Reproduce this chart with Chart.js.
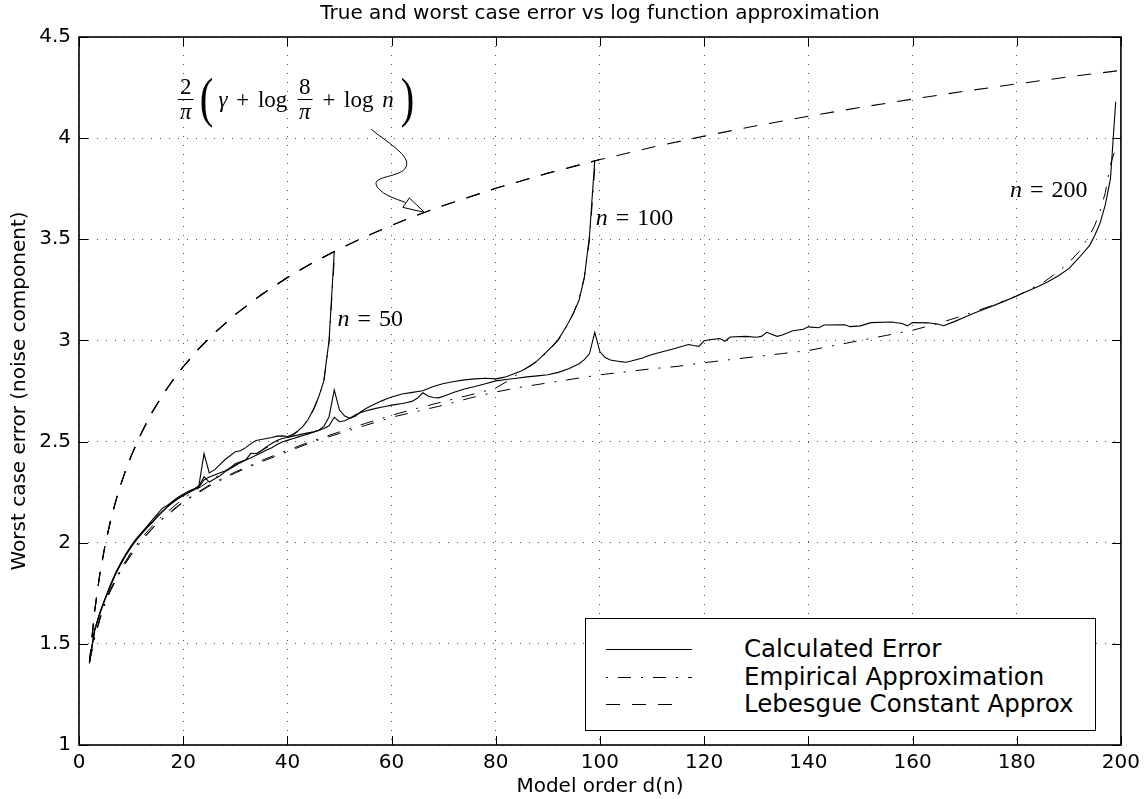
<!DOCTYPE html>
<html>
<head>
<meta charset="utf-8">
<title>True and worst case error vs log function approximation</title>
<script src="https://cdn.jsdelivr.net/npm/chart.js@4.4.1/dist/chart.umd.min.js"></script>
<style>
    html, body { margin: 0; padding: 0; background: #fff; }
    #wrap { position: relative; width: 1146px; height: 799px; font-family: "DejaVu Sans", sans-serif; color: #000; }
    #plotTitle { position: absolute; top: 0; font-size: 20px; line-height: 24px; white-space: nowrap; transform: translateX(-50%); }
    .note { position: absolute; font-family: "Liberation Serif", serif; font-size: 24px; line-height: 26px; word-spacing: 2px; white-space: nowrap; transform: translateY(-50%); }
    .note i, #formula i { font-style: italic; }
    #formula { position: absolute; display: flex; align-items: center; font-family: "Liberation Serif", serif; font-size: 23px; white-space: nowrap; transform: translate(-50%, -50%); }
    .frac { display: inline-flex; flex-direction: column; align-items: center; }
    .frac span { line-height: 24px; padding: 0 2px; }
    .frac span:first-child { border-bottom: 1.3px solid #000; }
    .paren { font-size: 54px; line-height: 54px; transform: scaleX(0.75); margin: 0 2px 4px 4px; font-weight: 300; }
    .t { padding: 0 1px; word-spacing: 3px; }
    #legend { position: absolute; width: 511px; height: 113px; box-sizing: border-box; border: 1.3px solid #000; background: #fff; }
    .row { position: absolute; left: 0; width: 100%; height: 28px; }
    .row svg { position: absolute; left: 20px; top: 0; }
    .row span { position: absolute; left: 158px; top: 0; font-size: 24.5px; line-height: 28px; white-space: nowrap; }
</style>
</head>
<body>
<div id="wrap">
    <canvas id="errChart"></canvas>
    <div id="plotTitle">True and worst case error vs log function approximation</div>
    <div id="formula">
        <span class="frac"><span>2</span><span><i>π</i></span></span>
        <span class="paren">(</span>
        <span class="t"><i>γ</i> + log&nbsp;</span>
        <span class="frac"><span>8</span><span><i>π</i></span></span>
        <span class="t">&nbsp;+ log&nbsp;<i>n</i></span>
        <span class="paren">)</span>
    </div>
    <div class="note" id="n50"><i>n</i> = 50</div>
    <div class="note" id="n100"><i>n</i> = 100</div>
    <div class="note" id="n200"><i>n</i> = 200</div>
    <div id="legend">
        <div class="row" style="top:16px"><svg width="90" height="28"><line x1="0" y1="14.5" x2="86" y2="14.5" stroke="#000" stroke-width="1"/></svg><span>Calculated Error</span></div>
        <div class="row" style="top:43.5px"><svg width="90" height="28"><line x1="0" y1="14.5" x2="86" y2="14.5" stroke="#000" stroke-width="1" stroke-dasharray="2 10 13 10"/></svg><span>Empirical Approximation</span></div>
        <div class="row" style="top:71px"><svg width="90" height="28"><line x1="0" y1="14.5" x2="72" y2="14.5" stroke="#000" stroke-width="1" stroke-dasharray="14 12"/></svg><span>Lebesgue Constant Approx</span></div>
    </div>
</div>
<script>
// Calculated error, n = 50
const calc50D = [2, 3, 4, 5, 6, 7, 8, 9, 10, 11, 12, 13, 14, 15, 16, 17, 18, 19, 20, 21, 22,
    23, 24, 25, 26, 27, 28, 29, 30, 31, 32, 33, 34, 35, 36, 37, 38, 39, 40, 41, 42, 43, 44, 45, 46, 47, 48, 49];
const calc50 = [1.41, 1.57, 1.655, 1.725, 1.79, 1.85, 1.90, 1.945, 1.985, 2.02, 2.05, 2.08, 2.11, 2.14, 2.17, 2.185, 2.205, 2.225, 2.24, 2.255, 2.265,
    2.28, 2.44, 2.345, 2.36, 2.385, 2.41, 2.43, 2.45, 2.455, 2.47, 2.49, 2.505, 2.51, 2.515, 2.52, 2.527, 2.528, 2.525, 2.535, 2.553, 2.575, 2.61, 2.66, 2.72, 2.80, 3.00, 3.44];

// Calculated error, n = 100
const calc100D = [2, 3, 4, 5, 6, 7, 8, 9, 10, 11, 12, 13, 14, 15, 16, 17, 18, 19, 20, 21, 22,
    23, 24, 25, 26, 27, 28, 29, 30, 31, 32, 33, 34, 35, 36, 37, 38, 39, 40, 41, 42,
    43, 44, 45, 46, 47, 48, 49, 50, 51, 52, 53, 54, 55, 56, 57, 58, 59, 60,
    62, 64, 66, 68, 70, 72, 74, 76, 78, 80,
    81, 82, 83, 84, 85, 86, 87, 88, 89, 90, 91, 92, 93, 94, 95, 96, 97, 98, 99];
const calc100 = [1.41, 1.565, 1.65, 1.72, 1.785, 1.845, 1.895, 1.94, 1.98, 2.015, 2.045, 2.075, 2.10, 2.13, 2.155, 2.18, 2.20, 2.22, 2.235, 2.25, 2.262,
    2.278, 2.326, 2.30, 2.315, 2.33, 2.35, 2.37, 2.39, 2.40, 2.41, 2.442, 2.44, 2.455, 2.475, 2.49, 2.505, 2.515, 2.52, 2.527, 2.532,
    2.538, 2.543, 2.548, 2.556, 2.575, 2.623, 2.755, 2.656, 2.626, 2.615, 2.625, 2.645, 2.662, 2.676, 2.688, 2.70, 2.71, 2.72,
    2.735, 2.743, 2.751, 2.772, 2.787, 2.797, 2.805, 2.81, 2.813, 2.81,
    2.815, 2.82, 2.83, 2.84, 2.85, 2.865, 2.88, 2.90, 2.925, 2.95, 2.975, 3.005, 3.045, 3.09, 3.14, 3.20, 3.31, 3.52, 3.89];

// Calculated error, n = 200
const calc200D = [2, 3, 4, 5, 6, 7, 8, 9, 10, 11, 12, 13, 14, 15, 16, 17, 18, 19, 20, 21, 22,
    23, 24, 25, 26, 27, 28, 29, 30, 31, 32, 33, 34, 35, 36, 37, 38, 39, 40, 41, 42, 43, 44, 45, 46,
    47, 48, 49, 50, 51, 52, 53, 54, 55, 56, 57, 58, 59, 60, 61, 62, 63, 64, 65, 66, 67, 68, 69, 70,
    72, 74, 76, 78, 80, 82, 84, 86, 88, 90, 92, 94, 96, 97, 98, 99, 100, 101, 102, 104, 105, 106,
    108, 110, 112, 114, 116, 117, 118, 119, 120, 121, 123, 124, 125, 128, 130, 131, 132, 134, 135,
    137, 139, 140, 142, 143, 147, 148, 150, 152, 156, 158, 159, 160, 163, 165, 166, 168, 170,
    172, 174, 176, 178, 180, 182, 184, 186, 188, 190, 192, 194, 195, 196, 197, 198, 199];
const calc200 = [1.41, 1.565, 1.65, 1.72, 1.785, 1.843, 1.893, 1.938, 1.978, 2.013, 2.043, 2.072, 2.098, 2.127, 2.152, 2.177, 2.198, 2.217, 2.232, 2.247, 2.26,
    2.275, 2.31, 2.325, 2.335, 2.345, 2.355, 2.37, 2.384, 2.395, 2.408, 2.42, 2.432, 2.445, 2.458, 2.47, 2.485, 2.498, 2.506, 2.514, 2.522, 2.53, 2.538, 2.546, 2.555,
    2.565, 2.578, 2.62, 2.598, 2.603, 2.615, 2.632, 2.643, 2.651, 2.658, 2.664, 2.67, 2.675, 2.68, 2.684, 2.688, 2.693, 2.70, 2.715, 2.741, 2.725, 2.718, 2.716, 2.724,
    2.744, 2.76, 2.772, 2.786, 2.80, 2.807, 2.813, 2.82, 2.825, 2.83, 2.842, 2.86, 2.885, 2.905, 2.935, 3.04, 2.944, 2.915, 2.903, 2.895, 2.892, 2.898,
    2.912, 2.93, 2.944, 2.958, 2.972, 2.98, 2.975, 2.971, 2.998, 3.003, 3.009, 2.996, 3.017, 3.02, 3.016, 3.02, 3.04, 3.02, 3.027,
    3.048, 3.055, 3.067, 3.063, 3.076, 3.077, 3.068, 3.072, 3.088, 3.091, 3.084, 3.072, 3.088, 3.087, 3.08, 3.073, 3.093, 3.115,
    3.137, 3.157, 3.177, 3.198, 3.22, 3.243, 3.265, 3.29, 3.32, 3.355, 3.41, 3.47, 3.52, 3.58, 3.67, 3.80, 4.18];

// Empirical approximation, one curve per n
const emp50D = [2, 3, 4, 5, 6, 8, 10, 12, 15, 20, 25, 30, 33, 35, 37, 38, 40, 41, 42, 43, 44, 45, 46, 47, 48, 49];
const emp50 = [1.41, 1.535, 1.626, 1.706, 1.768, 1.87, 1.952, 2.023, 2.11, 2.218, 2.305, 2.38, 2.425, 2.455, 2.485, 2.50, 2.518, 2.53, 2.55, 2.575, 2.61, 2.655, 2.715, 2.80, 2.99, 3.40];

const emp100D = [2, 3, 4, 5, 6, 8, 10, 12, 15, 20, 25, 30, 35, 40, 45, 50, 55, 60, 65, 70, 75, 78, 80, 82, 84, 86, 88, 90, 92, 94, 95, 96, 97, 98, 99];
const emp100 = [1.41, 1.532, 1.622, 1.702, 1.763, 1.863, 1.943, 2.013, 2.098, 2.204, 2.285, 2.35, 2.406, 2.457, 2.505, 2.548, 2.59, 2.63, 2.665, 2.698, 2.73, 2.75, 2.765, 2.795, 2.83, 2.865, 2.90, 2.945, 3.00, 3.085, 3.14, 3.21, 3.31, 3.50, 3.85];

const emp200D = [2, 3, 4, 5, 6, 8, 10, 12, 15, 20, 25, 30, 35, 40, 45, 50, 55, 60, 65, 70, 75, 80, 85, 90, 95, 100,
    105, 110, 115, 120, 125, 130, 135, 140, 145, 150, 155, 160, 165, 170, 175, 180, 185, 188, 190, 192, 194, 195, 196, 197, 198, 199];
const emp200 = [1.41, 1.53, 1.62, 1.70, 1.76, 1.86, 1.94, 2.01, 2.095, 2.20, 2.28, 2.345, 2.40, 2.45, 2.50, 2.54, 2.58, 2.62, 2.65, 2.68, 2.715, 2.745, 2.77, 2.79, 2.81, 2.83,
    2.845, 2.86, 2.872, 2.89, 2.905, 2.92, 2.935, 2.95, 2.975, 3.00, 3.025, 3.05, 3.085, 3.125, 3.17, 3.22, 3.285, 3.34, 3.385, 3.44, 3.52, 3.57, 3.64, 3.73, 3.87, 3.95];

// Lebesgue constant approximation (drawn once for each n, up to n)
const lebD = [2, 3, 4, 5, 6, 7, 8, 9, 10, 12, 14, 16, 18, 20, 23, 26, 30, 35, 40, 45, 50,
    55, 60, 65, 70, 80, 90, 100, 110, 120, 130, 140, 150, 160, 170, 180, 190, 200];
const leb = [1.404, 1.662, 1.845, 1.987, 2.103, 2.201, 2.286, 2.361, 2.428, 2.544, 2.643, 2.728, 2.803, 2.870, 2.959, 3.037, 3.128, 3.226, 3.311, 3.386, 3.453,
    3.514, 3.569, 3.620, 3.667, 3.752, 3.827, 3.894, 3.955, 4.010, 4.061, 4.108, 4.152, 4.193, 4.232, 4.268, 4.303, 4.335];

const xTicks = [0, 20, 40, 60, 80, 100, 120, 140, 160, 180, 200];
const yTicks = [1, 1.5, 2, 2.5, 3, 3.5, 4, 4.5];

function pts(ds, vs, upTo) {
    return ds.map((d, i) => ({x: d, y: vs[i]})).filter(p => upTo === undefined || p.x <= upTo);
}

const solid = {borderColor: '#000', borderWidth: 1.1, pointRadius: 0, fill: false, tension: 0};
const dashDot = {borderColor: '#000', borderWidth: 1, borderDash: [13, 10, 2, 10], pointRadius: 0, fill: false, tension: 0};
const dashed = {borderColor: '#000', borderWidth: 1.1, borderDash: [14, 12], pointRadius: 0, fill: false, tension: 0};

// Frame, inward ticks on all four sides and the annotation arrow
const framePlugin = {
    id: 'frame',
    afterDatasetsDraw(chart) {
        const {ctx, chartArea: a, scales: {x, y}} = chart;
        ctx.save();
        ctx.strokeStyle = '#000';
        ctx.lineWidth = 1;
        ctx.setLineDash([]);
        ctx.beginPath();
        x.ticks.forEach(t => {
            const px = Math.round(x.getPixelForValue(t.value)) + 0.5;
            ctx.moveTo(px, a.bottom); ctx.lineTo(px, a.bottom - 9);
            ctx.moveTo(px, a.top); ctx.lineTo(px, a.top + 9);
        });
        y.ticks.forEach(t => {
            const py = Math.round(y.getPixelForValue(t.value)) + 0.5;
            ctx.moveTo(a.left, py); ctx.lineTo(a.left + 9, py);
            ctx.moveTo(a.right, py); ctx.lineTo(a.right - 9, py);
        });
        ctx.stroke();

        ctx.lineWidth = 1.6;
        ctx.strokeRect(a.left, a.top, a.right - a.left, a.bottom - a.top);

        // squiggly arrow pointing at the Lebesgue curve
        const tx = x.getPixelForValue(66.3);
        const ty = y.getPixelForValue(3.633);
        ctx.lineWidth = 1;
        ctx.beginPath();
        ctx.moveTo(tx - 53, ty - 83);
        ctx.bezierCurveTo(tx - 35, ty - 68, tx - 8, ty - 54, tx - 21, ty - 42);
        ctx.bezierCurveTo(tx - 32, ty - 34, tx - 56, ty - 36, tx - 46, ty - 24);
        ctx.bezierCurveTo(tx - 40, ty - 17, tx - 30, ty - 14, tx - 19, ty - 10);
        ctx.stroke();
        ctx.beginPath();
        ctx.moveTo(tx, ty);
        ctx.lineTo(tx - 21.5, ty - 5);
        ctx.lineTo(tx - 15, ty - 14.5);
        ctx.closePath();
        ctx.fillStyle = '#fff';
        ctx.fill();
        ctx.stroke();
        ctx.restore();
    }
};

Chart.defaults.font.family = "'DejaVu Sans', sans-serif";
Chart.defaults.color = '#000';

const chart = new Chart(document.getElementById('errChart'), {
    type: 'line',
    data: {
        datasets: [
            {label: 'Calculated Error', data: pts(calc50D, calc50), ...solid},
            {label: 'Calculated Error', data: pts(calc100D, calc100), ...solid},
            {label: 'Calculated Error', data: pts(calc200D, calc200), ...solid},
            {label: 'Empirical Approximation', data: pts(emp50D, emp50), ...dashDot},
            {label: 'Empirical Approximation', data: pts(emp100D, emp100), ...dashDot},
            {label: 'Empirical Approximation', data: pts(emp200D, emp200), ...dashDot},
            {label: 'Lebesgue Constant Approx', data: pts(lebD, leb, 50), ...dashed},
            {label: 'Lebesgue Constant Approx', data: pts(lebD, leb, 100), ...dashed},
            {label: 'Lebesgue Constant Approx', data: pts(lebD, leb), ...dashed}
        ]
    },
    options: {
        responsive: true,
        maintainAspectRatio: false,
        animation: false,
        layout: {
            padding: {top: 37, right: 23, left: 0, bottom: 0}
        },
        plugins: {
            legend: {display: false},
            tooltip: {enabled: false}
        },
        scales: {
            x: {
                type: 'linear',
                min: 0,
                max: 200,
                afterBuildTicks: scale => { scale.ticks = xTicks.map(v => ({value: v})); },
                afterFit: scale => { scale.height = 54; },
                ticks: {font: {size: 20}, padding: 6, maxRotation: 0, callback: v => String(v)},
                grid: {color: '#555', lineWidth: 1, drawTicks: false},
                border: {display: false, dash: [1, 8]},
                title: {display: true, text: 'Model order d(n)', font: {size: 20}, padding: {top: 0, bottom: 0}}
            },
            y: {
                type: 'linear',
                min: 1,
                max: 4.5,
                afterBuildTicks: scale => { scale.ticks = yTicks.map(v => ({value: v})); },
                afterFit: scale => { scale.width = 79; },
                ticks: {font: {size: 20}, padding: 8, callback: v => String(v)},
                grid: {color: '#555', lineWidth: 1, drawTicks: false},
                border: {display: false, dash: [1, 8]},
                title: {display: true, text: 'Worst case error (noise component)', font: {size: 20}, padding: {top: 8, bottom: 0}}
            }
        }
    },
    plugins: [framePlugin]
});

// Place the text overlays from the chart's own scales
function placeOverlays() {
    const {chartArea: a, scales: {x, y}} = chart;
    const title = document.getElementById('plotTitle');
    title.style.left = ((a.left + a.right) / 2) + 'px';

    const f = document.getElementById('formula');
    f.style.left = x.getPixelForValue(42.1) + 'px';
    f.style.top = y.getPixelForValue(4.19) + 'px';

    const put = (id, dx, dy) => {
        const el = document.getElementById(id);
        el.style.left = x.getPixelForValue(dx) + 'px';
        el.style.top = y.getPixelForValue(dy) + 'px';
    };
    put('n50', 49.6, 3.11);
    put('n100', 99.2, 3.61);
    put('n200', 178.7, 3.75);

    const lg = document.getElementById('legend');
    lg.style.left = (a.right - 25 - 511) + 'px';
    lg.style.top = (a.bottom - 14 - 113) + 'px';
}
placeOverlays();
</script>
</body>
</html>
